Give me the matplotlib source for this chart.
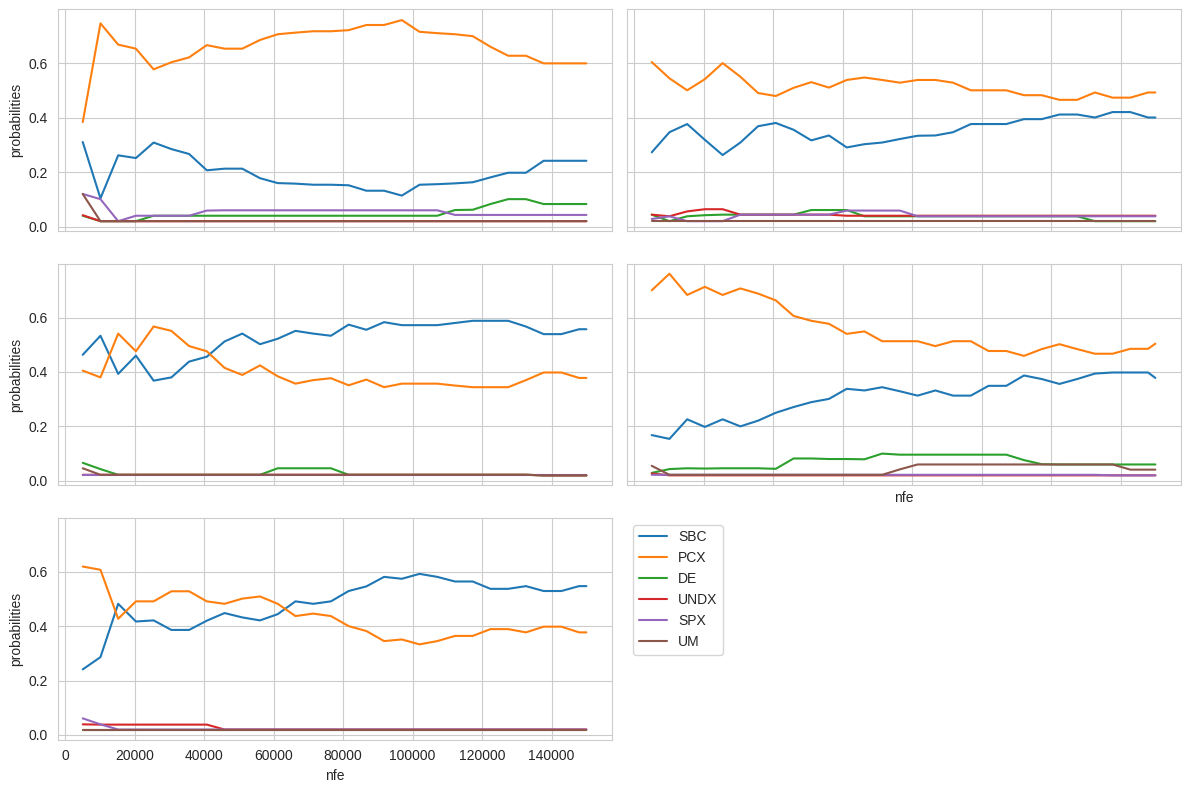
import matplotlib
matplotlib.use("Agg")
import matplotlib.pyplot as plt
import seaborn as sns

nfe = [5100, 10200, 15300, 20400, 25500, 30600, 35700, 40800, 45900, 51000,
       56100, 61200, 66300, 71400, 76500, 81600, 86700, 91800, 96900, 102000,
       107100, 112200, 117300, 122400, 127500, 132600, 137700, 142800, 147900, 150000]

operators = ["SBC", "PCX", "DE", "UNDX", "SPX", "UM"]

# panel 1
sbc_1 = [0.311, 0.104, 0.262, 0.252, 0.309, 0.285, 0.267, 0.207, 0.213, 0.213,
         0.178, 0.160, 0.158, 0.154, 0.154, 0.152, 0.132, 0.132, 0.114, 0.154,
         0.156, 0.159, 0.163, 0.181, 0.198, 0.198, 0.242, 0.242, 0.242, 0.242]
pcx_1 = [0.384, 0.747, 0.669, 0.654, 0.578, 0.604, 0.622, 0.667, 0.654, 0.654,
         0.686, 0.707, 0.713, 0.718, 0.718, 0.722, 0.741, 0.741, 0.759, 0.716,
         0.711, 0.707, 0.700, 0.661, 0.628, 0.628, 0.600, 0.600, 0.600, 0.600]
de_1 = [0.040, 0.020, 0.020, 0.020, 0.040, 0.040, 0.040, 0.040, 0.040, 0.040,
        0.040, 0.040, 0.040, 0.040, 0.040, 0.040, 0.040, 0.040, 0.040, 0.040,
        0.040, 0.061, 0.062, 0.083, 0.101, 0.101, 0.083, 0.083, 0.083, 0.083]
undx_1 = [0.042, 0.020, 0.020, 0.020, 0.020, 0.020, 0.020, 0.020, 0.020, 0.020,
          0.020, 0.020, 0.020, 0.020, 0.020, 0.020, 0.020, 0.020, 0.020, 0.020,
          0.020, 0.020, 0.020, 0.020, 0.020, 0.020, 0.020, 0.020, 0.020, 0.020]
spx_1 = [0.120, 0.101, 0.020, 0.040, 0.040, 0.040, 0.040, 0.059, 0.060, 0.060,
         0.060, 0.060, 0.060, 0.060, 0.060, 0.060, 0.060, 0.060, 0.060, 0.060,
         0.060, 0.043, 0.043, 0.043, 0.043, 0.043, 0.043, 0.043, 0.043, 0.043]
um_1 = [0.120, 0.020, 0.020, 0.020, 0.020, 0.020, 0.020, 0.020, 0.020, 0.020,
        0.020, 0.020, 0.020, 0.020, 0.020, 0.020, 0.020, 0.020, 0.020, 0.020,
        0.020, 0.020, 0.020, 0.020, 0.020, 0.020, 0.020, 0.020, 0.020, 0.020]

# panel 2
sbc_2 = [0.273, 0.347, 0.377, 0.319, 0.263, 0.309, 0.369, 0.381, 0.356, 0.317,
         0.335, 0.291, 0.303, 0.309, 0.322, 0.334, 0.335, 0.347, 0.377, 0.377,
         0.377, 0.395, 0.395, 0.412, 0.412, 0.401, 0.421, 0.421, 0.401, 0.401]
pcx_2 = [0.605, 0.545, 0.501, 0.542, 0.601, 0.551, 0.491, 0.480, 0.510, 0.531,
         0.511, 0.539, 0.548, 0.539, 0.529, 0.539, 0.539, 0.529, 0.501, 0.501,
         0.501, 0.483, 0.483, 0.466, 0.466, 0.493, 0.474, 0.474, 0.493, 0.493]
de_2 = [0.044, 0.020, 0.038, 0.042, 0.044, 0.044, 0.044, 0.044, 0.044, 0.061,
        0.061, 0.061, 0.038, 0.038, 0.038, 0.038, 0.038, 0.038, 0.038, 0.038,
        0.038, 0.038, 0.038, 0.038, 0.038, 0.020, 0.020, 0.020, 0.020, 0.020]
undx_2 = [0.044, 0.038, 0.056, 0.064, 0.064, 0.044, 0.044, 0.044, 0.044, 0.044,
          0.044, 0.040, 0.040, 0.040, 0.040, 0.040, 0.040, 0.040, 0.040, 0.040,
          0.040, 0.040, 0.040, 0.040, 0.040, 0.040, 0.040, 0.040, 0.040, 0.040]
spx_2 = [0.028, 0.038, 0.020, 0.020, 0.020, 0.044, 0.044, 0.044, 0.044, 0.044,
         0.044, 0.059, 0.059, 0.059, 0.059, 0.038, 0.038, 0.038, 0.038, 0.038,
         0.038, 0.038, 0.038, 0.038, 0.038, 0.038, 0.038, 0.038, 0.038, 0.038]
um_2 = [0.020, 0.020, 0.020, 0.020, 0.020, 0.020, 0.020, 0.020, 0.020, 0.020,
        0.020, 0.020, 0.020, 0.020, 0.020, 0.020, 0.020, 0.020, 0.020, 0.020,
        0.020, 0.020, 0.020, 0.020, 0.020, 0.020, 0.020, 0.020, 0.020, 0.020]

# panel 3
sbc_3 = [0.463, 0.533, 0.393, 0.460, 0.368, 0.380, 0.438, 0.456, 0.512, 0.541,
         0.502, 0.522, 0.551, 0.541, 0.533, 0.574, 0.555, 0.583, 0.572, 0.572,
         0.572, 0.580, 0.588, 0.588, 0.588, 0.567, 0.539, 0.539, 0.557, 0.557]
pcx_3 = [0.405, 0.380, 0.541, 0.476, 0.567, 0.551, 0.495, 0.476, 0.415, 0.389,
         0.424, 0.384, 0.357, 0.370, 0.377, 0.351, 0.372, 0.344, 0.357, 0.357,
         0.357, 0.350, 0.344, 0.344, 0.344, 0.370, 0.398, 0.398, 0.378, 0.378]
de_3 = [0.066, 0.043, 0.022, 0.022, 0.022, 0.022, 0.022, 0.022, 0.022, 0.022,
        0.022, 0.046, 0.046, 0.046, 0.046, 0.022, 0.022, 0.022, 0.022, 0.022,
        0.022, 0.022, 0.022, 0.022, 0.022, 0.022, 0.020, 0.020, 0.020, 0.020]
undx_3 = [0.022, 0.022, 0.022, 0.022, 0.022, 0.022, 0.022, 0.022, 0.022, 0.022,
          0.022, 0.022, 0.022, 0.022, 0.022, 0.022, 0.022, 0.022, 0.022, 0.022,
          0.022, 0.022, 0.022, 0.022, 0.022, 0.022, 0.020, 0.020, 0.020, 0.020]
spx_3 = [0.020, 0.020, 0.020, 0.020, 0.020, 0.020, 0.020, 0.020, 0.020, 0.020,
         0.020, 0.020, 0.020, 0.020, 0.020, 0.020, 0.020, 0.020, 0.020, 0.020,
         0.020, 0.020, 0.020, 0.020, 0.020, 0.020, 0.020, 0.020, 0.020, 0.020]
um_3 = [0.046, 0.022, 0.022, 0.022, 0.022, 0.022, 0.022, 0.022, 0.022, 0.022,
        0.022, 0.022, 0.022, 0.022, 0.022, 0.022, 0.022, 0.022, 0.022, 0.022,
        0.022, 0.022, 0.022, 0.022, 0.022, 0.022, 0.020, 0.020, 0.020, 0.020]

# panel 4
sbc_4 = [0.168, 0.154, 0.226, 0.198, 0.226, 0.200, 0.221, 0.250, 0.271, 0.289,
         0.301, 0.338, 0.332, 0.344, 0.329, 0.313, 0.332, 0.313, 0.313, 0.349,
         0.349, 0.387, 0.374, 0.356, 0.374, 0.394, 0.398, 0.398, 0.398, 0.378]
pcx_4 = [0.700, 0.761, 0.683, 0.713, 0.683, 0.707, 0.688, 0.663, 0.606, 0.588,
         0.577, 0.540, 0.549, 0.513, 0.513, 0.513, 0.495, 0.513, 0.513, 0.477,
         0.477, 0.459, 0.484, 0.502, 0.484, 0.467, 0.467, 0.485, 0.485, 0.504]
de_4 = [0.029, 0.043, 0.046, 0.045, 0.046, 0.046, 0.046, 0.044, 0.082, 0.082,
        0.080, 0.080, 0.079, 0.100, 0.096, 0.096, 0.096, 0.096, 0.096, 0.096,
        0.096, 0.076, 0.061, 0.060, 0.060, 0.060, 0.060, 0.060, 0.060, 0.060]
undx_4 = [0.027, 0.020, 0.020, 0.020, 0.020, 0.020, 0.020, 0.020, 0.020, 0.020,
          0.020, 0.020, 0.020, 0.020, 0.020, 0.020, 0.020, 0.020, 0.020, 0.020,
          0.020, 0.020, 0.020, 0.020, 0.020, 0.020, 0.020, 0.020, 0.020, 0.020]
spx_4 = [0.022, 0.022, 0.022, 0.022, 0.022, 0.022, 0.022, 0.022, 0.022, 0.022,
         0.022, 0.022, 0.022, 0.022, 0.022, 0.022, 0.022, 0.022, 0.022, 0.022,
         0.022, 0.022, 0.022, 0.022, 0.022, 0.022, 0.020, 0.020, 0.020, 0.020]
um_4 = [0.055, 0.022, 0.022, 0.022, 0.022, 0.022, 0.022, 0.022, 0.022, 0.022,
        0.022, 0.022, 0.022, 0.022, 0.042, 0.060, 0.060, 0.060, 0.060, 0.060,
        0.060, 0.060, 0.060, 0.060, 0.060, 0.060, 0.060, 0.041, 0.041, 0.041]

# panel 5
sbc_5 = [0.241, 0.286, 0.482, 0.417, 0.421, 0.386, 0.386, 0.420, 0.448, 0.432,
         0.421, 0.444, 0.491, 0.482, 0.491, 0.529, 0.546, 0.581, 0.574, 0.592,
         0.581, 0.564, 0.564, 0.537, 0.537, 0.547, 0.529, 0.529, 0.547, 0.547]
pcx_5 = [0.619, 0.607, 0.427, 0.491, 0.491, 0.528, 0.528, 0.491, 0.482, 0.501,
         0.509, 0.482, 0.437, 0.446, 0.437, 0.400, 0.382, 0.345, 0.351, 0.333,
         0.345, 0.364, 0.364, 0.389, 0.389, 0.377, 0.398, 0.398, 0.377, 0.377]
de_5 = [0.020, 0.020, 0.020, 0.020, 0.020, 0.020, 0.020, 0.020, 0.020, 0.020,
        0.020, 0.020, 0.020, 0.020, 0.020, 0.020, 0.020, 0.020, 0.020, 0.020,
        0.020, 0.020, 0.020, 0.020, 0.020, 0.020, 0.020, 0.020, 0.020, 0.020]
undx_5 = [0.039, 0.038, 0.038, 0.038, 0.038, 0.038, 0.038, 0.038, 0.020, 0.020,
          0.020, 0.020, 0.020, 0.020, 0.020, 0.020, 0.020, 0.020, 0.020, 0.020,
          0.020, 0.020, 0.020, 0.020, 0.020, 0.020, 0.020, 0.020, 0.020, 0.020]
spx_5 = [0.061, 0.039, 0.020, 0.020, 0.020, 0.020, 0.020, 0.020, 0.020, 0.020,
         0.020, 0.020, 0.020, 0.020, 0.020, 0.020, 0.020, 0.020, 0.020, 0.020,
         0.020, 0.020, 0.020, 0.020, 0.020, 0.020, 0.020, 0.020, 0.020, 0.020]
um_5 = [0.020, 0.020, 0.020, 0.020, 0.020, 0.020, 0.020, 0.020, 0.020, 0.020,
        0.020, 0.020, 0.020, 0.020, 0.020, 0.020, 0.020, 0.020, 0.020, 0.020,
        0.020, 0.020, 0.020, 0.020, 0.020, 0.020, 0.020, 0.020, 0.020, 0.020]

panels = [
    [sbc_1, pcx_1, de_1, undx_1, spx_1, um_1],
    [sbc_2, pcx_2, de_2, undx_2, spx_2, um_2],
    [sbc_3, pcx_3, de_3, undx_3, spx_3, um_3],
    [sbc_4, pcx_4, de_4, undx_4, spx_4, um_4],
    [sbc_5, pcx_5, de_5, undx_5, spx_5, um_5],
]

sns.set_style("whitegrid")
plt.rcParams['font.family'] = ['Liberation Sans', 'DejaVu Sans']

fig, axes = plt.subplots(3, 2, figsize=(11.89, 7.9), sharex=True, sharey=True)
flat = axes.flatten()

for ax, series in zip(flat, panels):
    for name, vals in zip(operators, series):
        ax.plot(nfe, vals, label=name, linewidth=1.5)

for ax in axes[:, 0]:
    ax.set_ylabel("probabilities")
axes[1, 1].set_xlabel("nfe")
axes[2, 0].set_xlabel("nfe")
axes[2, 0].set_yticks([0.0, 0.2, 0.4, 0.6])

handles, labels = flat[0].get_legend_handles_labels()
flat[5].axis("off")
flat[5].legend(handles, labels, loc="upper left")

fig.subplots_adjust(left=0.0484, right=0.9929, top=0.988, bottom=0.0638,
                    wspace=0.027, hspace=0.146)
fig.savefig("out.png", dpi=100)
